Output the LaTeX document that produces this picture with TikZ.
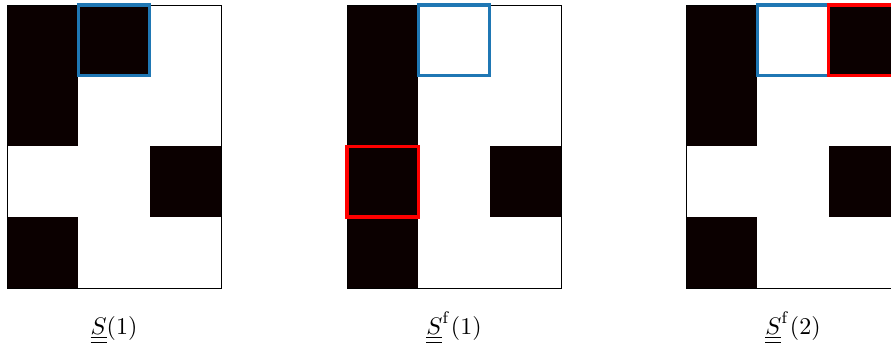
\documentclass[tikz,border=0pt]{standalone}
\definecolor{cellblack}{RGB}{11,0,0}
\definecolor{tabblue}{RGB}{31,119,180}
\definecolor{hired}{RGB}{255,0,0}
\tikzset{
  cellfill/.style={fill=cellblack},
  framebox/.style={draw=black, line width=0.8pt},
  bluebox/.style={draw=tabblue, line width=3.5pt},
  redbox/.style={draw=hired, line width=3.5pt},
  caption/.style={scale=2.4, inner sep=0pt, anchor=base}
}
\newcommand{\cellat}[4]{% origin x, col, row, style
  \path[#4] ({#1+(#2-1)*71.33},{5+(#3-1)*70.75}) rectangle ++(71.33,70.75);}
\begin{document}
\begin{tikzpicture}[x=1pt,y=-1pt]
\useasboundingbox (0,0) rectangle (891,347);
\clip (0,0) rectangle (891,347);
% panel 1
\fill[white] (7,5) rectangle ++(214,283);
\cellat{7}{1}{1}{cellfill}
\cellat{7}{2}{1}{cellfill}
\cellat{7}{1}{2}{cellfill}
\cellat{7}{3}{3}{cellfill}
\cellat{7}{1}{4}{cellfill}
\draw[framebox] (7,5) rectangle ++(214,283);
\cellat{7}{2}{1}{bluebox}
% panel 2
\cellat{347}{1}{1}{cellfill}
\cellat{347}{1}{2}{cellfill}
\cellat{347}{1}{3}{cellfill}
\cellat{347}{3}{3}{cellfill}
\cellat{347}{1}{4}{cellfill}
\draw[framebox] (347,5) rectangle ++(214,283);
\cellat{347}{2}{1}{bluebox}
\cellat{347}{1}{3}{redbox}
% panel 3
\cellat{686}{1}{1}{cellfill}
\cellat{686}{3}{1}{cellfill}
\cellat{686}{1}{2}{cellfill}
\cellat{686}{3}{3}{cellfill}
\cellat{686}{1}{4}{cellfill}
\draw[framebox] (686,5) rectangle ++(214,283);
\cellat{686}{2}{1}{bluebox}
\cellat{686}{3}{1}{redbox}
% captions
\node[caption] (cap1) at (114,334) {$\underline{\underline{S}}(1)$};
\node[caption] (cap2) at (454,334) {$\underline{\underline{S}}^{\mathrm{f}}(1)$};
\node[caption] (cap3) at (793,334) {$\underline{\underline{S}}^{\mathrm{f}}(2)$};
\end{tikzpicture}
\end{document}
